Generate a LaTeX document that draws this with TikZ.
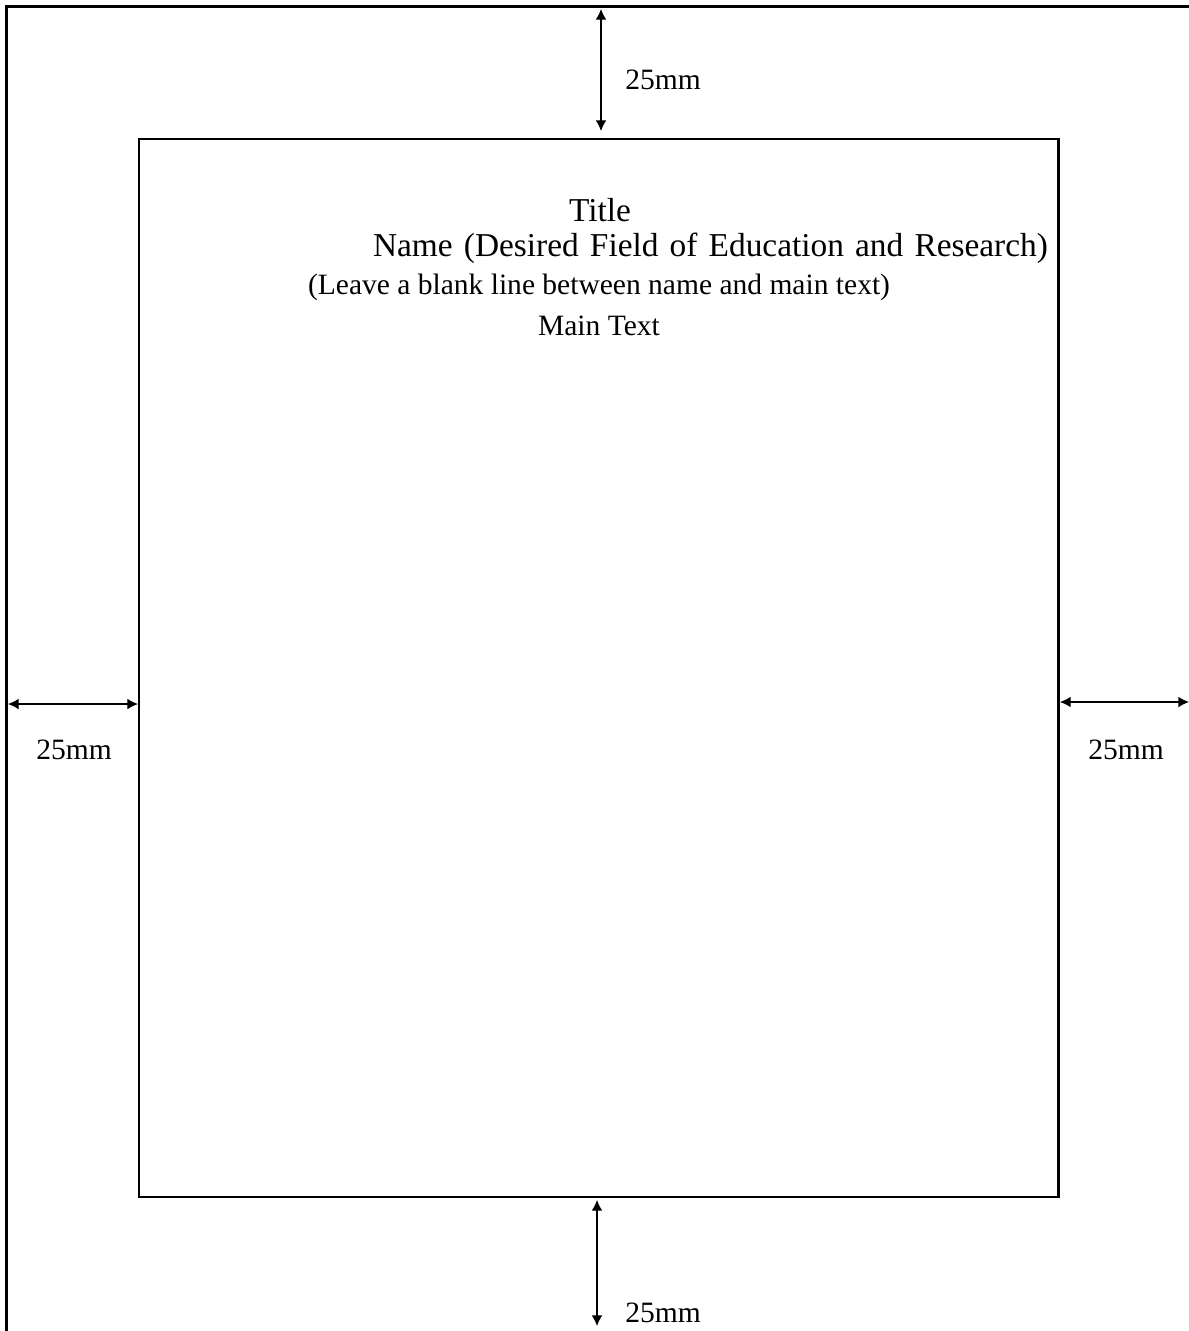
\documentclass[tikz,border=0pt]{standalone}
\usepackage{fontspec}
\setmainfont{Liberation Serif}
\usetikzlibrary{arrows.meta}
\tikzset{
	page/.style={line width=1.4pt},
	gap/.style={line width=0.6pt,{Latex[length=6pt,width=6pt]}-{Latex[length=6pt,width=6pt]}},
	dim/.style={font=\fontsize{16.8}{20}\selectfont,inner sep=0pt},
	head/.style={font=\fontsize{19}{22}\selectfont,inner sep=0pt},
	body/.style={font=\fontsize{16.8}{20}\selectfont,inner sep=0pt}
}
\begin{document}
\begin{tikzpicture}[x=0.02cm,y=-0.02cm]
	\useasboundingbox (0,0) rectangle (1189,1331);
	% sheet edge
	\coordinate (A) at (6.5,1331); \coordinate (B) at (6.5,6.5); \coordinate (C) at (1189,6.5);
	\draw[page] (A)--(B)--(C);
	% text area
	\coordinate (M) at (139,1197); \coordinate (N) at (1058.5,1197);
	\coordinate (P) at (1058.5,139); \coordinate (Q) at (139,139);
	\draw[page] (M)--(N)--(P)--(Q)--cycle;
	% margins
	\coordinate (T1) at (601,9); \coordinate (T2) at (601,131);
	\coordinate (D1) at (597,1200); \coordinate (D2) at (597,1326);
	\coordinate (L1) at (8,704); \coordinate (L2) at (138,704);
	\coordinate (R1) at (1060,702); \coordinate (R2) at (1189,702);
	\draw[gap] (T1)--(T2); \draw[gap] (D1)--(D2);
	\draw[gap] (L1)--(L2); \draw[gap] (R1)--(R2);
	\node[dim,anchor=west] (top) at (625,80) {25mm};
	\node[dim,anchor=west] (bot) at (625,1313) {25mm};
	\node[dim] (lft) at (74,750) {25mm};
	\node[dim] (rgt) at (1126,750) {25mm};
	% heading
	\node[head] (title) at (600,210) {Title};
	\node[head] (name) at (710.5,248) {\makebox[13.5cm][s]{Name (Desired Field of Education and Research)}};
	\node[body] (blank) at (599,287) {(Leave a blank line between name and main text)};
	\node[body] (main) at (599,326) {Main Text};
\end{tikzpicture}
\end{document}
